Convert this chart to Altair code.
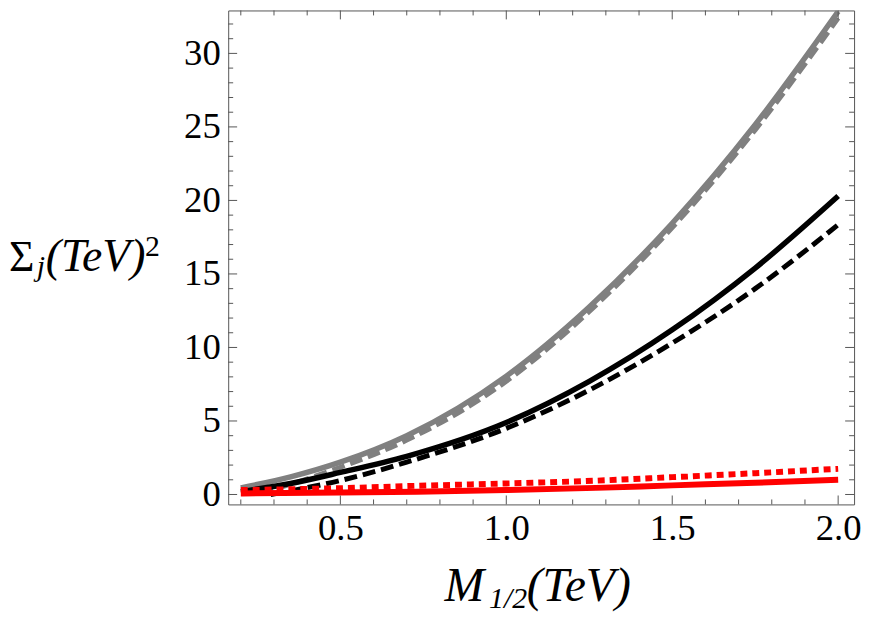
import altair as alt
import pandas as pd

# ---- data ----
x_gray_solid = [0.2, 0.35, 0.5, 0.7, 1.0, 1.25, 1.5, 1.75, 2.0]
y_gray_solid = [0.45, 1.2, 2.2, 4.0, 8.05, 12.75, 18.45, 25.15, 32.85]

x_gray_dashed = [0.26, 0.35, 0.5, 0.7, 1.0, 1.25, 1.5, 1.75, 2.0]
y_gray_dashed = [0.1, 0.7, 1.85, 3.7, 7.7, 12.45, 18.15, 24.8, 32.4]

x_black_solid = [0.2, 0.35, 0.5, 0.7, 1.0, 1.25, 1.5, 1.75, 2.0]
y_black_solid = [0.2, 0.75, 1.5, 2.6, 4.9, 7.7, 11.2, 15.4, 20.3]

x_black_dashed = [0.29, 0.35, 0.5, 0.7, 1.0, 1.25, 1.5, 1.75, 2.0]
y_black_dashed = [0.0, 0.25, 0.95, 2.2, 4.5, 7.1, 10.3, 14.0, 18.35]

x_red = [0.2, 0.5, 0.73, 1.0, 1.27, 1.5, 1.75, 2.0]
y_red_dotted = [0.3, 0.43, 0.59, 0.75, 0.94, 1.18, 1.45, 1.75]
y_red_solid = [0.07, 0.13, 0.19, 0.3, 0.45, 0.62, 0.8, 1.0]

x_major = [0.5, 1.0, 1.5, 2.0]
x_minor = [0.2, 0.3, 0.4, 0.6, 0.7, 0.8, 0.9, 1.1, 1.2, 1.3, 1.4, 1.6, 1.7, 1.8, 1.9]
y_major = [0, 5, 10, 15, 20, 25, 30]
y_minor = [1, 2, 3, 4, 6, 7, 8, 9, 11, 12, 13, 14, 16, 17, 18, 19,
           21, 22, 23, 24, 26, 27, 28, 29, 31, 32]

W, H = 631, 498
FONT = "Liberation Serif"
TICK = "#555555"

xscale = alt.Scale(domain=[0.162, 2.048], nice=False, zero=False)
yscale = alt.Scale(domain=[-0.675, 32.92], nice=False, zero=False)
xaxis = alt.Axis(values=x_major, format=".1f", title=None, grid=False, ticks=False,
                 tickSize=0, domain=False, labelFont=FONT, labelFontSize=37,
                 labelColor="black", labelPadding=6, labelFlush=False)
yaxis = alt.Axis(values=y_major, format="d", title=None, grid=False, ticks=False,
                 tickSize=0, domain=False, labelFont=FONT, labelFontSize=37,
                 labelColor="black", labelPadding=8)


def X(f):
    return alt.X(f, scale=xscale, axis=xaxis)


def Y(f):
    return alt.Y(f, scale=yscale, axis=yaxis)


def line(xs, ys, color, width, dash=None):
    df = pd.DataFrame({"x": xs, "y": ys})
    kw = dict(color=color, strokeWidth=width, interpolate="monotone",
              clip=True, strokeCap="butt")
    if dash:
        kw["strokeDash"] = dash
    return alt.Chart(df).mark_line(**kw).encode(x=X("x:Q"), y=Y("y:Q"))


layers = [
    line(x_gray_solid, y_gray_solid, "#808080", 5.5),
    line(x_gray_dashed, y_gray_dashed, "#808080", 5, [13, 6]),
    line(x_black_solid, y_black_solid, "#000000", 5.5),
    line(x_black_dashed, y_black_dashed, "#000000", 5, [13, 6]),
    line(x_red, y_red_dotted, "#ff0000", 6, [7, 5]),
    line(x_red, y_red_solid, "#ff0000", 6),
]


def xticks(vals, length):
    df = pd.DataFrame({"x": vals})
    base = alt.Chart(df).mark_rule(color=TICK, strokeWidth=1)
    return [
        base.encode(x=X("x:Q"), y=alt.value(H), y2=alt.value(H - length)),
        base.encode(x=X("x:Q"), y=alt.value(0), y2=alt.value(length)),
    ]


def yticks(vals, length):
    df = pd.DataFrame({"y": vals})
    base = alt.Chart(df).mark_rule(color=TICK, strokeWidth=1)
    return [
        base.encode(y=Y("y:Q"), x=alt.value(0), x2=alt.value(length)),
        base.encode(y=Y("y:Q"), x=alt.value(W), x2=alt.value(W - length)),
    ]


ticks = xticks(x_major, 9) + xticks(x_minor, 5) + yticks(y_major, 9) + yticks(y_minor, 5)


def label(txt, x, y, size, italic=False):
    df = pd.DataFrame({"t": [txt]})
    return alt.Chart(df).mark_text(
        font=FONT, fontSize=size, fontStyle="italic" if italic else "normal",
        align="left", baseline="alphabetic", color="black"
    ).encode(text="t:N", x=alt.value(x), y=alt.value(y))


titles = [
    # left title: Σ_j (TeV)^2
    label("Σ", -221, 263, 44),
    label("j", -193, 268, 30, True),
    label("(TeV)", -184, 263, 46, True),
    label("2", -84, 248, 30),
    # bottom title: M_{1/2}(TeV)
    label("M", 218, 595, 48, True),
    label("1/2", 263, 602, 30, True),
    label("(TeV)", 301, 595, 48, True),
]

chart = alt.layer(*layers, *ticks, *titles).properties(
    width=W, height=H,
    autosize=alt.AutoSizeParams(type="none"),
    padding={"left": 222, "top": 0, "right": 10, "bottom": 108},
).configure_view(stroke=TICK, strokeWidth=1)

chart.save("out.html", embed_options={"renderer": "svg", "actions": False})
